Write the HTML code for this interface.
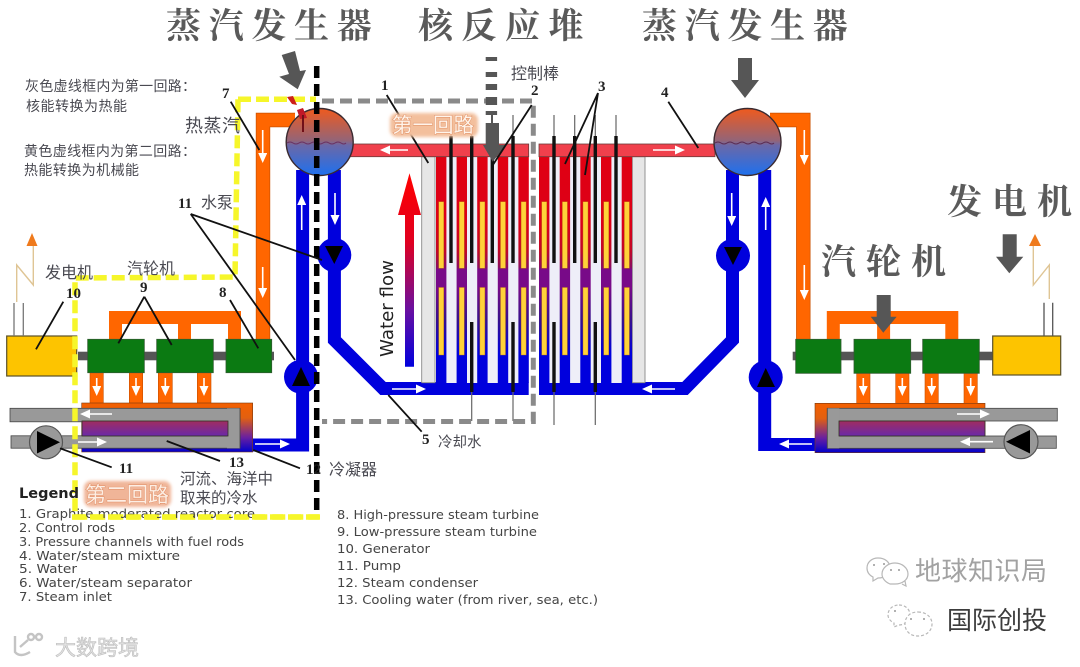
<!DOCTYPE html>
<html lang="zh">
<head>
<meta charset="utf-8">
<title>核反应堆示意图</title>
<style>
html,body{margin:0;padding:0;background:#fff;width:1080px;height:667px;overflow:hidden}
svg{display:block;filter:blur(.35px)}
.t{font-family:"Liberation Serif","Noto Serif CJK SC",serif;font-weight:700;fill:#5a5a5a;font-size:35px;letter-spacing:8px}
.c{font-family:"Liberation Sans","Noto Sans CJK SC",sans-serif;fill:#4a4a52}
.n{font-family:"Liberation Serif",serif;font-weight:700;font-size:15px;fill:#222}
.l{font-family:"DejaVu Sans",sans-serif;font-size:12px;fill:#444}
.ln{stroke:#111;stroke-width:1.8;fill:none}
.w{stroke:#fff;stroke-width:1.6;fill:none;marker-end:url(#h)}
.o{fill:#f60;stroke:#c95000;stroke-width:.6}
.b{stroke:#0000dd;fill:none;stroke-width:13;stroke-linejoin:miter;stroke-miterlimit:8}
.g{fill:#0b7a12;stroke:#2f5a2f;stroke-width:.8}
.ch{fill:url(#chan)}
.y{fill:#ffd23a;stroke:#c07a10;stroke-width:.4}
.r{stroke:#111;stroke-width:3.4}
.th{stroke:#666;stroke-width:1.2}
</style>
</head>
<body>
<svg width="1080" height="667" viewBox="0 0 1080 667" xmlns="http://www.w3.org/2000/svg">
<defs>
<marker id="h" markerUnits="userSpaceOnUse" markerWidth="10" markerHeight="9" refX="2" refY="4.5" orient="auto"><path d="M0 0L10 4.5L0 9Z" fill="#fff"/></marker>
<linearGradient id="chan" gradientUnits="userSpaceOnUse" x1="0" y1="156" x2="0" y2="383">
<stop offset="0" stop-color="#e00012"/><stop offset=".3" stop-color="#dc0018"/><stop offset=".42" stop-color="#c00828"/><stop offset=".49" stop-color="#8a0c60"/><stop offset=".5" stop-color="#780a88"/><stop offset=".58" stop-color="#780a88"/><stop offset=".72" stop-color="#38108c"/><stop offset=".87" stop-color="#0000dd"/><stop offset="1" stop-color="#0000dd"/>
</linearGradient>
<linearGradient id="drum" x1="0" y1="0" x2="0" y2="1">
<stop offset="0" stop-color="#ef5a1e"/><stop offset=".48" stop-color="#936478"/><stop offset=".55" stop-color="#6a68a8"/><stop offset="1" stop-color="#1e70ee"/>
</linearGradient>
<linearGradient id="flow" gradientUnits="userSpaceOnUse" x1="0" y1="175" x2="0" y2="367">
<stop offset="0" stop-color="#ff0000"/><stop offset=".35" stop-color="#e00020"/><stop offset=".7" stop-color="#6a10a0"/><stop offset="1" stop-color="#0000dd"/>
</linearGradient>
<linearGradient id="cond" x1="0" y1="0" x2="0" y2="1">
<stop offset="0" stop-color="#f46000"/><stop offset=".3" stop-color="#e26010"/><stop offset=".7" stop-color="#6a20a0"/><stop offset="1" stop-color="#0000cc"/>
</linearGradient>
<linearGradient id="pur" x1="0" y1="0" x2="0" y2="1">
<stop offset="0" stop-color="#a02c60"/><stop offset="1" stop-color="#6a2aa8"/>
</linearGradient>
<filter id="soft" x="-20%" y="-30%" width="140%" height="160%"><feGaussianBlur stdDeviation="1.6"/></filter>
</defs>

<rect width="1080" height="667" fill="#fff"/>

<!-- LEFT piping -->
<path d="M263 339V120H295" fill="none" stroke="#c95000" stroke-width="14.4"/>
<path d="M263 339V120H295" fill="none" stroke="#f60" stroke-width="13"/>
<path d="M115.5 340V317.5H234.5V340M184.5 317.5V340" fill="none" stroke="#f60" stroke-width="13"/>
<rect class="o" x="90" y="372" width="13.3" height="32"/><rect class="o" x="129.3" y="372" width="13.4" height="32"/><rect class="o" x="158.3" y="372" width="14" height="32"/><rect class="o" x="197.3" y="372" width="13.7" height="32"/>

<path class="b" d="M302.6 170V445H245"/>
<path class="b" d="M334.4 170V340L383 388.5H528.7"/>

<!-- LEFT condenser -->
<rect x="81.7" y="403" width="171" height="49" fill="url(#cond)" stroke="#7a3a10" stroke-width=".6"/>
<rect x="10" y="408.3" width="230" height="13.5" fill="#999" stroke="#444" stroke-width=".8"/>
<rect x="11" y="435.8" width="229" height="12.4" fill="#999" stroke="#444" stroke-width=".8"/>
<rect x="227" y="408.3" width="13" height="40" fill="#999"/>
<path d="M240 408.3V448.2" stroke="#444" stroke-width=".8"/>
<rect x="82" y="421" width="146" height="15" fill="url(#pur)" stroke="#332" stroke-width=".8"/>
<circle cx="46" cy="442.3" r="16.5" fill="#999" stroke="#555" stroke-width="1.2"/>
<path d="M37 431L60 442.3L37 453.5Z" fill="#000"/>

<!-- LEFT turbines -->
<rect x="78" y="351.7" width="196" height="8.6" fill="#555"/>
<rect class="g" x="87.7" y="339.3" width="56.6" height="33.4"/>
<rect class="g" x="156.7" y="339.3" width="56.6" height="33.4"/>
<rect class="g" x="226" y="339.3" width="45.7" height="33.4"/>
<rect x="6.7" y="336" width="70" height="40" fill="#fdc400" stroke="#5a5028" stroke-width="1.2"/>
<path d="M14 303V336M23.3 303V336" stroke="#777" stroke-width="1.3" fill="none"/>
<path d="M16.7 302V265L33.3 285V246" stroke="#dfc595" stroke-width="1.4" fill="none"/>
<path d="M32 233L37.5 246H26.5Z" fill="#ef7a1c"/>

<!-- RIGHT piping -->
<path d="M770 120H803.3V339" fill="none" stroke="#c95000" stroke-width="14.4"/>
<path d="M770 120H803.3V339" fill="none" stroke="#f60" stroke-width="13"/>
<path d="M833.3 340V317.5H951.8V340M883.6 317.5V340" fill="none" stroke="#f60" stroke-width="13"/>
<rect class="o" x="856.7" y="372" width="13.3" height="32"/><rect class="o" x="895.7" y="372" width="13.3" height="32"/><rect class="o" x="925" y="372" width="13.3" height="32"/><rect class="o" x="964" y="372" width="13.3" height="32"/>
<path class="b" d="M732.5 170V340L685 388.5H539"/>
<path class="b" d="M764.7 170V444.5H818"/>

<!-- RIGHT condenser -->
<rect x="815" y="403.3" width="170" height="49.4" fill="url(#cond)" stroke="#7a3a10" stroke-width=".6"/>
<rect x="827.3" y="408.3" width="230" height="12.7" fill="#999" stroke="#444" stroke-width=".8"/>
<rect x="827.3" y="436" width="229" height="12.3" fill="#999" stroke="#444" stroke-width=".8"/>
<rect x="827.3" y="408.3" width="12" height="40" fill="#999"/>
<path d="M827.3 408.3V448.3" stroke="#444" stroke-width=".8"/>
<rect x="839" y="421" width="146" height="15" fill="url(#pur)" stroke="#332" stroke-width=".8"/>
<circle cx="1021" cy="441.7" r="17" fill="#999" stroke="#555" stroke-width="1.2"/>
<path d="M1030 430L1006 441.7L1030 453.5Z" fill="#000"/>

<!-- RIGHT turbines -->
<rect x="792.7" y="351.7" width="202" height="8.6" fill="#555"/>
<rect class="g" x="795.7" y="339.3" width="45.3" height="34"/>
<rect class="g" x="854" y="339.3" width="56.7" height="34"/>
<rect class="g" x="922.7" y="339.3" width="56.6" height="34"/>
<rect x="992.7" y="336" width="68" height="39" fill="#fdc400" stroke="#5a5028" stroke-width="1.2"/>
<path d="M1044 302.7V336M1052.7 302.7V336" stroke="#555" stroke-width="1.3" fill="none"/>
<path d="M1049.3 299V265L1033.3 285V246" stroke="#dfc595" stroke-width="1.4" fill="none"/>
<path d="M1035 234L1041 246H1029Z" fill="#ef7a1c"/>

<!-- CORE -->
<rect x="421.7" y="156.7" width="13.3" height="226" fill="#e6e6e6" stroke="#888" stroke-width=".9"/>
<rect x="632.3" y="156.7" width="12.7" height="226" fill="#e6e6e6" stroke="#888" stroke-width=".9"/>
<rect x="436" y="156" width="92.7" height="227" fill="#eeeef8"/>
<rect x="539" y="156" width="93" height="227" fill="#eeeef8"/>
<rect class="ch" x="436" y="156" width="10.4" height="227"/><rect class="ch" x="456.6" y="156" width="10.4" height="227"/><rect class="ch" x="477.2" y="156" width="10.4" height="227"/><rect class="ch" x="497.8" y="156" width="10.4" height="227"/><rect class="ch" x="518.4" y="156" width="10.4" height="227"/>
<rect class="ch" x="539" y="156" width="10.4" height="227"/><rect class="ch" x="559.7" y="156" width="10.4" height="227"/><rect class="ch" x="580.3" y="156" width="10.4" height="227"/><rect class="ch" x="601" y="156" width="10.4" height="227"/><rect class="ch" x="621.7" y="156" width="10.4" height="227"/>
<!-- upper fuel rods -->
<rect class="y" x="438.7" y="201.7" width="5" height="66.5"/><rect class="y" x="459.3" y="201.7" width="5" height="66.5"/><rect class="y" x="479.9" y="201.7" width="5" height="66.5"/><rect class="y" x="500.5" y="201.7" width="5" height="66.5"/><rect class="y" x="521.1" y="201.7" width="5" height="66.5"/>
<rect class="y" x="541.7" y="201.7" width="5" height="66.5"/><rect class="y" x="562.4" y="201.7" width="5" height="66.5"/><rect class="y" x="583" y="201.7" width="5" height="66.5"/><rect class="y" x="603.7" y="201.7" width="5" height="66.5"/><rect class="y" x="624.4" y="201.7" width="5" height="66.5"/>
<!-- lower fuel rods -->
<rect class="y" x="438.7" y="287.5" width="5" height="67.5"/><rect class="y" x="459.3" y="287.5" width="5" height="67.5"/><rect class="y" x="479.9" y="287.5" width="5" height="67.5"/><rect class="y" x="500.5" y="287.5" width="5" height="67.5"/><rect class="y" x="521.1" y="287.5" width="5" height="67.5"/>
<rect class="y" x="541.7" y="287.5" width="5" height="67.5"/><rect class="y" x="562.4" y="287.5" width="5" height="67.5"/><rect class="y" x="583" y="287.5" width="5" height="67.5"/><rect class="y" x="603.7" y="287.5" width="5" height="67.5"/><rect class="y" x="624.4" y="287.5" width="5" height="67.5"/>

<!-- headers -->
<rect x="350" y="144" width="178.7" height="12.7" fill="#f0404c" stroke="#6a3a3a" stroke-width=".8"/>
<rect x="539" y="144" width="176" height="12.7" fill="#f0404c" stroke="#6a3a3a" stroke-width=".8"/>
<!-- control rods -->
<path class="th" d="M451 115V136M471.7 115V136M513 115V136M554 115V136M574.7 115V136M595.3 115V136M616 115V136"/>
<path class="r" d="M451 136V263M471.7 136V263M492.3 136V263M513 136V263M554 136V263M574.7 136V263M595.3 136V263M616 136V263"/>
<path class="r" d="M471.7 322V392M513 322V392M554 322V392M595.3 322V392"/>
<path class="th" d="M471.7 392V421M513 392V421M554 392V425M595.3 392V425"/>

<!-- drums -->
<circle cx="319.7" cy="142" r="33.5" fill="url(#drum)" stroke="#3a2a30" stroke-width="1.4"/>
<circle cx="747.5" cy="142" r="33.5" fill="url(#drum)" stroke="#3a2a30" stroke-width="1.4"/>
<path d="M287 143q3-2 6 0t6 0 6 0 6 0 6 0 6 0 6 0 6 0 6 0 5 0" fill="none" stroke="#6a3060" stroke-width="1"/>
<path d="M715 143q3-2 6 0t6 0 6 0 6 0 6 0 6 0 6 0 6 0 6 0 5 0" fill="none" stroke="#5a2a50" stroke-width="1"/>

<!-- pumps -->
<circle cx="334.3" cy="255" r="17" fill="#0000dd"/><path d="M325 246H343L334.3 264Z" fill="#000"/>
<circle cx="301" cy="376.7" r="17" fill="#0000dd"/><path d="M292 386H310L301 367Z" fill="#000"/>
<circle cx="733" cy="255.7" r="17" fill="#0000dd"/><path d="M724 247H742L733 265Z" fill="#000"/>
<circle cx="765.7" cy="377.3" r="17" fill="#0000dd"/><path d="M757 387H775L765.7 368Z" fill="#000"/>

<!-- flow arrows -->
<path class="w" d="M408 150H388"/><path class="w" d="M653 150H677"/>
<path class="w" d="M392 389H418"/><path class="w" d="M675 389H650"/>
<path class="w" d="M301.7 230V203"/><path class="w" d="M335 193V217"/>
<path class="w" d="M262.7 130V155"/><path class="w" d="M262.7 267V290"/>
<path class="w" d="M731.7 193V218"/><path class="w" d="M765.7 230V205"/>
<path class="w" d="M804.3 130V157"/><path class="w" d="M804.3 265V292"/>
<path class="w" d="M112 414H88"/><path class="w" d="M78 442H99"/><path class="w" d="M255 444H282"/>
<path class="w" d="M957 414H982"/><path class="w" d="M993 441.7H968"/><path class="w" d="M812 444H787"/>
<path class="w" d="M96.7 378V388"/><path class="w" d="M136 378V388"/><path class="w" d="M165.3 378V388"/><path class="w" d="M204 378V388"/>
<path class="w" d="M863.3 378V388"/><path class="w" d="M902.3 378V388"/><path class="w" d="M931.7 378V388"/><path class="w" d="M970.7 378V388"/>

<!-- water flow arrow -->
<path d="M405 215H398L409.5 173.3L421 215H414V366.7H405Z" fill="url(#flow)"/>
<text x="0" y="0" transform="translate(393,357) rotate(-90)" font-family="'DejaVu Sans',sans-serif" font-size="18" fill="#222" textLength="97" lengthAdjust="spacingAndGlyphs">Water flow</text>

<!-- dashed overlays -->
<path d="M322 101H533.3V421.5H322" fill="none" stroke="#8a8a8a" stroke-width="5" stroke-dasharray="12 6"/>
<path d="M238 99.3H316M238 99.3L235 277L75 278V517H320" fill="none" stroke="#f6f62a" stroke-width="5.5" stroke-dasharray="13 5"/>
<path d="M316.7 66V513" fill="none" stroke="#000" stroke-width="5.5" stroke-dasharray="12 6"/>

<!-- red marks -->
<path d="M287 97L293 96L297 105L292 104Z" fill="#cc2018"/>
<path d="M297 110L303 108L307 118L300 119Z" fill="#c01828"/>
<path d="M303 115V132" stroke="#701018" stroke-width="2"/>

<!-- big grey arrows -->
<path fill="#565656" d="M281.7 55L295 51L300 71L306 70L297.7 89.3L279.3 76.7L289 74Z"/>
<path fill="#565656" d="M738 58H752V80H759L745 98L731 80H738Z"/>
<path fill="#565656" d="M1002.7 234.3H1016.7V256.7H1023.3L1009.3 273.3L996 256.7H1002.7Z"/>
<path fill="#565656" d="M876.7 295H890.7V316.7H896.7L883.3 332.7L870.7 316.7H876.7Z"/>
<path fill="#565656" d="M485.7 57h11.4v4h-11.4zM485.7 72h11.4v5h-11.4zM485.7 84h11.4v6h-11.4zM485.7 97h11.4v8h-11.4zM485.7 111h11.4v4h-11.4zM491 115h2v8h-2z"/>
<path fill="#565656" d="M485.7 123H499V145H506L492.7 161.7L483 145H485.7Z"/>

<!-- leader lines -->
<path class="ln" d="M230.7 101.7L259.3 150"/>
<path class="ln" d="M190.7 214L322 260M190.7 214L295 360"/>
<path class="ln" d="M63.3 301.7L36 349.3M144.3 296.7L118.3 343.3M144.3 296.7L171.7 345M230 300L258.3 348.3"/>
<path class="ln" d="M60 448.3L111.7 467.3M166.7 441L220 461M253.3 450L300 468.3"/>
<path class="ln" d="M386.7 95L428.3 163M531.7 105L491.7 166.7M598 93L565 164M598 93L585 175M668.3 101.7L698.3 148M388.3 395L421.7 431.7"/>

<!-- headline labels -->
<text class="t" x="166" y="38" style="letter-spacing:7.7px">蒸汽发生器</text>
<text class="t" x="418" y="38" style="letter-spacing:8.5px">核反应堆</text>
<text class="t" x="642" y="38" style="letter-spacing:7.7px">蒸汽发生器</text>
<text class="t" x="947" y="214" style="letter-spacing:10px">发电机</text>
<text class="t" x="821" y="274" style="letter-spacing:10px">汽轮机</text>

<!-- notes -->
<text class="c" x="25" y="91" font-size="14" textLength="171">灰色虚线框内为第一回路：</text>
<text class="c" x="26" y="111" font-size="14" textLength="101">核能转换为热能</text>
<text class="c" x="24" y="156" font-size="14" textLength="172">黄色虚线框内为第二回路：</text>
<text class="c" x="24" y="175" font-size="14" textLength="115">热能转换为机械能</text>
<text class="c" x="185" y="132" font-size="18" textLength="55">热蒸汽</text>
<text class="c" x="201" y="208" font-size="16">水泵</text>
<text class="c" x="45" y="278" font-size="16">发电机</text>
<text class="c" x="127" y="274" font-size="16">汽轮机</text>
<text class="c" x="511" y="79" font-size="16">控制棒</text>
<text class="c" x="438" y="447" font-size="14.5">冷却水</text>
<text class="c" x="329" y="475" font-size="16">冷凝器</text>
<text class="c" x="180" y="484" font-size="15.5" fill="#444">河流、海洋中</text>
<text class="c" x="180" y="503" font-size="15.5" fill="#444">取来的冷水</text>

<!-- numbers -->
<text class="n" x="222" y="98">7</text>
<text class="n" x="178" y="208">11</text>
<text class="n" x="66" y="298">10</text>
<text class="n" x="140" y="292">9</text>
<text class="n" x="219" y="297">8</text>
<text class="n" x="119" y="473">11</text>
<text class="n" x="229" y="467">13</text>
<text class="n" x="306" y="474">12</text>
<text class="n" x="381" y="90">1</text>
<text class="n" x="531" y="95">2</text>
<text class="n" x="598" y="91">3</text>
<text class="n" x="661" y="97">4</text>
<text class="n" x="422" y="444">5</text>

<!-- legend -->
<text x="19" y="498" font-family="'DejaVu Sans',sans-serif" font-weight="700" font-size="14.5" fill="#222">Legend</text>
<text class="l" x="19" y="518" textLength="236" lengthAdjust="spacingAndGlyphs">1. Graphite moderated reactor core</text>
<text class="l" x="19" y="532" textLength="96" lengthAdjust="spacingAndGlyphs">2. Control rods</text>
<text class="l" x="19" y="546" textLength="225" lengthAdjust="spacingAndGlyphs">3. Pressure channels with fuel rods</text>
<text class="l" x="19" y="560" textLength="161" lengthAdjust="spacingAndGlyphs">4. Water/steam mixture</text>
<text class="l" x="19" y="573" textLength="58" lengthAdjust="spacingAndGlyphs">5. Water</text>
<text class="l" x="19" y="587" textLength="173" lengthAdjust="spacingAndGlyphs">6. Water/steam separator</text>
<text class="l" x="19" y="601" textLength="93" lengthAdjust="spacingAndGlyphs">7. Steam inlet</text>
<text class="l" x="337" y="519" textLength="202" lengthAdjust="spacingAndGlyphs">8. High-pressure steam turbine</text>
<text class="l" x="337" y="536" textLength="200" lengthAdjust="spacingAndGlyphs">9. Low-pressure steam turbine</text>
<text class="l" x="337" y="553" textLength="93" lengthAdjust="spacingAndGlyphs">10. Generator</text>
<text class="l" x="337" y="570" textLength="64" lengthAdjust="spacingAndGlyphs">11. Pump</text>
<text class="l" x="337" y="587" textLength="141" lengthAdjust="spacingAndGlyphs">12. Steam condenser</text>
<text class="l" x="337" y="604" textLength="261" lengthAdjust="spacingAndGlyphs">13. Cooling water (from river, sea, etc.)</text>
<path d="M72 517H320" stroke="#f6f62a" stroke-width="5.5" stroke-dasharray="13 5"/>

<!-- salmon loop tags -->
<rect x="390" y="113" width="88" height="24" rx="7" fill="#f3bf9c" filter="url(#soft)"/>
<text x="392" y="132" font-family="'Liberation Sans','Noto Sans CJK SC',sans-serif" font-size="20.5" fill="#fff4ea" stroke="#df8c62" stroke-width=".9" paint-order="stroke">第一回路</text>
<rect x="84" y="481" width="87" height="26" rx="7" fill="#f0b598" filter="url(#soft)"/>
<text x="85" y="502" font-family="'Liberation Sans','Noto Sans CJK SC',sans-serif" font-size="21" fill="#fdeee4" stroke="#df8c62" stroke-width=".9" paint-order="stroke">第二回路</text>

<!-- watermarks -->
<g fill="#fff" stroke="#b8b8b8" stroke-width="1.2">
<path d="M878 558c7 0 12 4 12 10s-5 10-12 10l-5 3v-4c-4-2-6-5-6-9 0-6 5-10 11-10z"/>
<path d="M895 563c7 0 13 5 13 11s-6 10-13 10c-2 0-3 0-4 0l-1 0c-5-2-8-6-8-10 0-6 6-11 13-11zM902 584l4 2-1-5"/>
<path d="M899 605c6 0 11 4 11 10s-5 10-11 10l-5 2v-4c-4-2-6-5-6-8 0-6 5-10 11-10z" stroke-dasharray="3 2"/>
<path d="M918 612c8 0 14 5 14 12s-6 12-14 12-13-5-13-12 5-12 13-12z" stroke-dasharray="3 2"/>
</g>
<g fill="#999"><circle cx="874" cy="565" r="1"/><circle cx="884" cy="564" r="1"/><circle cx="891" cy="570" r="1"/><circle cx="899" cy="570" r="1"/><circle cx="895" cy="611" r="1"/><circle cx="911" cy="619" r="1"/><circle cx="924" cy="619" r="1"/></g>
<text x="915" y="580" font-family="'Liberation Sans','Noto Sans CJK SC',sans-serif" font-size="26" fill="#a2a2a2" textLength="132">地球知识局</text>
<text x="947" y="629" font-family="'Liberation Sans','Noto Sans CJK SC',sans-serif" font-size="25" fill="#3c3c3c">国际创投</text>
<g fill="none" stroke="#c4c4c4" stroke-width="2.4">
<path d="M15 636V652Q20 658 30 652"/><circle cx="31" cy="637" r="3"/><circle cx="39" cy="637" r="3"/><path d="M20 647L28 640"/>
</g>
<text x="55" y="655" font-family="'Liberation Sans','Noto Sans CJK SC',sans-serif" font-size="21" fill="#e2e2e2" stroke="#bdbdbd" stroke-width=".6">大数跨境</text>
</svg>
</body>
</html>
